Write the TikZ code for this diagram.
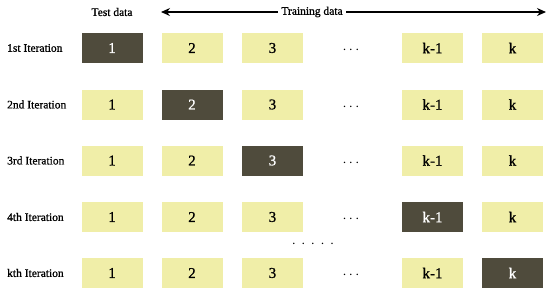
\documentclass[tikz,border=0pt]{standalone}
\usepackage{fontspec}
\setmainfont{Liberation Serif}[FakeBold=0.8]
\usetikzlibrary{arrows.meta}
\definecolor{lightbox}{RGB}{240,238,168}
\definecolor{darkbox}{RGB}{79,75,60}
\begin{document}
\begin{tikzpicture}[x=1pt,y=-1pt,
  cell/.style={rectangle,minimum width=61pt,minimum height=30pt,inner sep=0pt,fill=lightbox,text=black,font=\fontsize{15}{15}\selectfont},
  testcell/.style={cell,fill=darkbox,text=white},
  rowlabel/.style={anchor=west,inner sep=0pt,font=\fontsize{11.5}{12}\selectfont},
  dotslabel/.style={inner sep=0pt,font=\fontsize{14}{14}\selectfont},
  hdr/.style={inner sep=1pt,font=\fontsize{11.5}{12}\selectfont,fill=white}]
\useasboundingbox (0,0) rectangle (550,293);
% header
\node[hdr] (test) at (112,12) {Test data};
\coordinate (al) at (161,12);
\coordinate (ar) at (546,12);
\draw[{Stealth[length=9pt,width=8pt]}-{Stealth[length=9pt,width=8pt]},line width=1.3pt] (al) -- (ar);
\node[hdr,inner xsep=3pt] (train) at (312,12) {Training data};
% rows
\foreach \r/\y/\lab/\d in {1/48/1st Iteration/1, 2/104.5/2nd Iteration/2, 3/160.5/3rd Iteration/3, 4/217/4th Iteration/4, 5/273/kth Iteration/6}{
  \node[rowlabel] (lab\r) at (7,\y) {\lab};
  \foreach \c/\x/\t in {1/112/1, 2/192/2, 3/272.5/3, 4/432.5/k-1, 6/512.5/k}{
    \ifnum\c=\d
      \node[testcell] (b\r\c) at (\x,\y) {\t};
    \else
      \node[cell] (b\r\c) at (\x,\y) {\t};
    \fi
  }
  \node[dotslabel] (dots\r) at (351,\y+2.5) {$\cdots$};
}
\node[dotslabel] (vdots) at (313,244) {$\cdot\,\cdot\,\cdot\,\cdot\,\cdot$};
\end{tikzpicture}
\end{document}
